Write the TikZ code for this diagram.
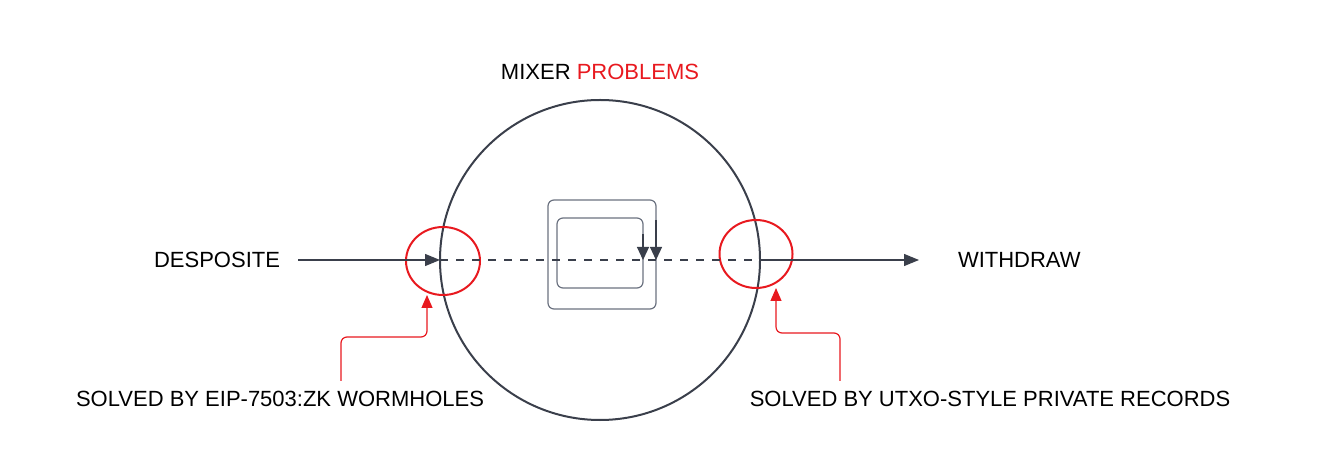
\documentclass[tikz,border=0pt]{standalone}
\usepackage{fontspec}
\setmainfont{Liberation Sans}
\usepackage{tikz}
\usetikzlibrary{positioning}
\usetikzlibrary{arrows.meta}
\usetikzlibrary{shapes.geometric}
\definecolor{ink}{HTML}{3A3F4B}
\definecolor{warnred}{HTML}{E8191F}
\definecolor{boxgray}{HTML}{6B7280}
\begin{document}
\begin{tikzpicture}[x=0.5pt,y=-0.5pt,every node/.style={inner sep=0pt,outer sep=0pt},
  flow/.style={draw=ink,line width=0.6pt,-{Triangle[length=7.5pt,width=6pt]}},
  loop/.style={draw=ink,line width=0.6pt,-{Triangle[length=6.5pt,width=6pt]}},
  hint/.style={draw=warnred,line width=0.6pt,rounded corners=3pt,-{Triangle[length=6.5pt,width=5.5pt]}},
  warn/.style={draw=warnred,line width=1pt,ellipse},
  cyclebox/.style={draw=boxgray,line width=0.6pt,rounded corners=3pt}]
  \fontsize{11pt}{13pt}\selectfont
  \useasboundingbox (0,0) rectangle (1320,469);
  \node[circle,draw=ink,line width=1pt,minimum size=160pt](mixer) at (600,260) {};
  \node(title) [above=10pt of mixer] {MIXER \textcolor{warnred}{PROBLEMS}};
  \node(desposite) [left=80pt of mixer] {DESPOSITE};
  \node(withdraw) [right=99pt of mixer] {WITHDRAW};
  \node[cyclebox,minimum width=54pt,minimum height=54.5pt](outer) at (602,254.5) {};
  \node[cyclebox,minimum width=43pt,minimum height=35pt](inner) at (600,253) {};
  \node[warn,minimum width=37pt,minimum height=34pt](lwarn) at (443,261) {};
  \node[warn,minimum width=36.5pt,minimum height=34pt](rwarn) at (756,254) {};
  \node(lnote) at (280,399) {SOLVED BY EIP-7503:ZK WORMHOLES};
  \node(rnote) at (990,399) {SOLVED BY UTXO-STYLE PRIVATE RECORDS};
  \coordinate (lstart) at (341,381);
  \coordinate (lturn) at (427,337);
  \coordinate (rstart) at (840,381);
  \coordinate (rturn) at (776,333);
  \draw[flow,shorten <=9pt] (desposite.east) -- (mixer.west);
  \draw[ink,line width=1.2pt,dash pattern=on 4pt off 4pt] (mixer.west) -- (mixer.east);
  \draw[flow,shorten >=19.5pt] (mixer.east) -- (withdraw.west);
  \draw[loop] ([yshift=-10pt]outer.north east) -- (outer.east |- mixer.center);
  \draw[loop] ([yshift=-8pt]inner.north east) -- (inner.east |- mixer.center);
  \draw[hint] (lstart) |- (lturn) -- (lturn |- lwarn.south);
  \draw[hint] (rstart) |- (rturn) -- (rturn |- rwarn.south);
\end{tikzpicture}
\end{document}
